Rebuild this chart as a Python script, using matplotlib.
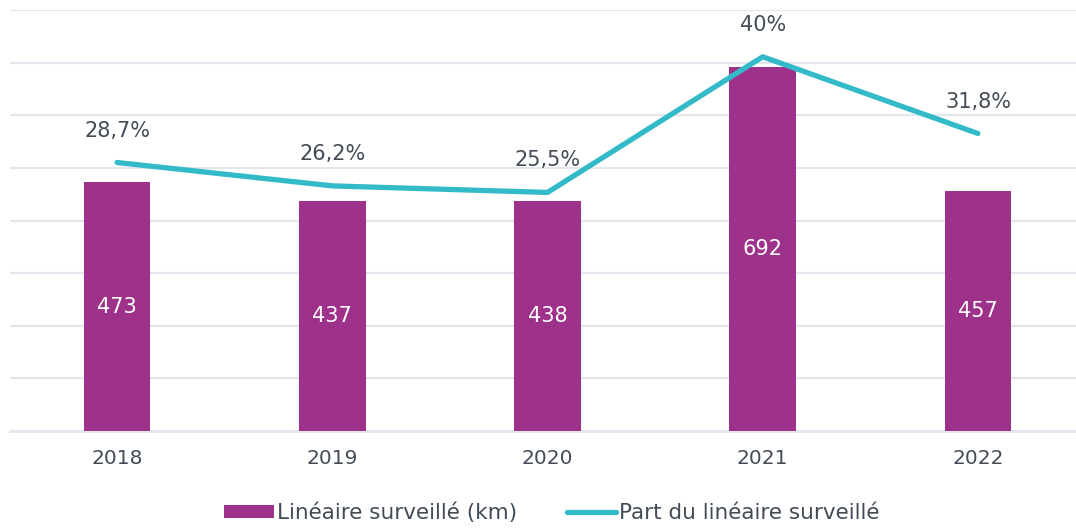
import matplotlib.pyplot as plt
from matplotlib.patches import Patch
from matplotlib.lines import Line2D

# data
years = ['2018', '2019', '2020', '2021', '2022']
lineaire_km = [473, 437, 438, 692, 457]
part_pct = [28.7, 26.2, 25.5, 40.0, 31.8]
part_labels = ['28,7%', '26,2%', '25,5%', '40%', '31,8%']

purple = '#9E318A'
teal = '#33BAC8'
txt = '#434C56'
grid = '#E3E6EC'

plt.rcParams['font.family'] = ['DejaVu Sans']

fig = plt.figure(figsize=(10.76, 5.29), dpi=100)
ax = fig.add_axes([10 / 1076, (529 - 431) / 529, 1 - 10 / 1076, 421 / 529])

x = list(range(len(years)))
ax.bar(x, lineaire_km, width=0.31, color=purple, zorder=3)
for i, v in enumerate(lineaire_km):
    ax.text(i, v / 2, str(v), color='white', ha='center', va='center', fontsize=15, zorder=4)

ax.set_ylim(0, 800)
ax.set_yticks(range(0, 801, 100))
ax.set_xlim(-107 / 215, 4 + 98 / 215)
ax.yaxis.grid(True, color=grid, linewidth=1.6)
ax.set_axisbelow(True)
for s in ['top', 'right', 'left']:
    ax.spines[s].set_visible(False)
ax.spines['bottom'].set_color(grid)
ax.spines['bottom'].set_linewidth(2)
ax.set_xticks(x)
ax.set_xticklabels(years, fontsize=14.5, color=txt)
ax.tick_params(axis='x', length=0, pad=13)
ax.tick_params(axis='y', length=0, labelleft=False)

# secondary axis for the share
ax2 = ax.twinx()
ax2.plot(x, part_pct, color=teal, linewidth=3.8, solid_capstyle='round', zorder=5)
ax2.set_ylim(0, 45)
ax2.axis('off')
for i, (v, lab) in enumerate(zip(part_pct, part_labels)):
    ax2.annotate(lab, (i, v), textcoords='offset points', xytext=(0, 23),
                 ha='center', va='center', fontsize=15, color=txt)

handles = [Patch(facecolor=purple, edgecolor='none'),
           Line2D([0], [0], color=teal, linewidth=3.8, solid_capstyle='round')]
fig.legend(handles, ['Linéaire surveillé (km)', 'Part du linéaire surveillé'],
           loc='center', bbox_to_anchor=(0.513, 0.03), ncol=2, frameon=False,
           fontsize=15.5, labelcolor=txt, handlelength=2.3, handleheight=0.55,
           handletextpad=0.15, columnspacing=2.3)

fig.savefig('out.png', dpi=100)
